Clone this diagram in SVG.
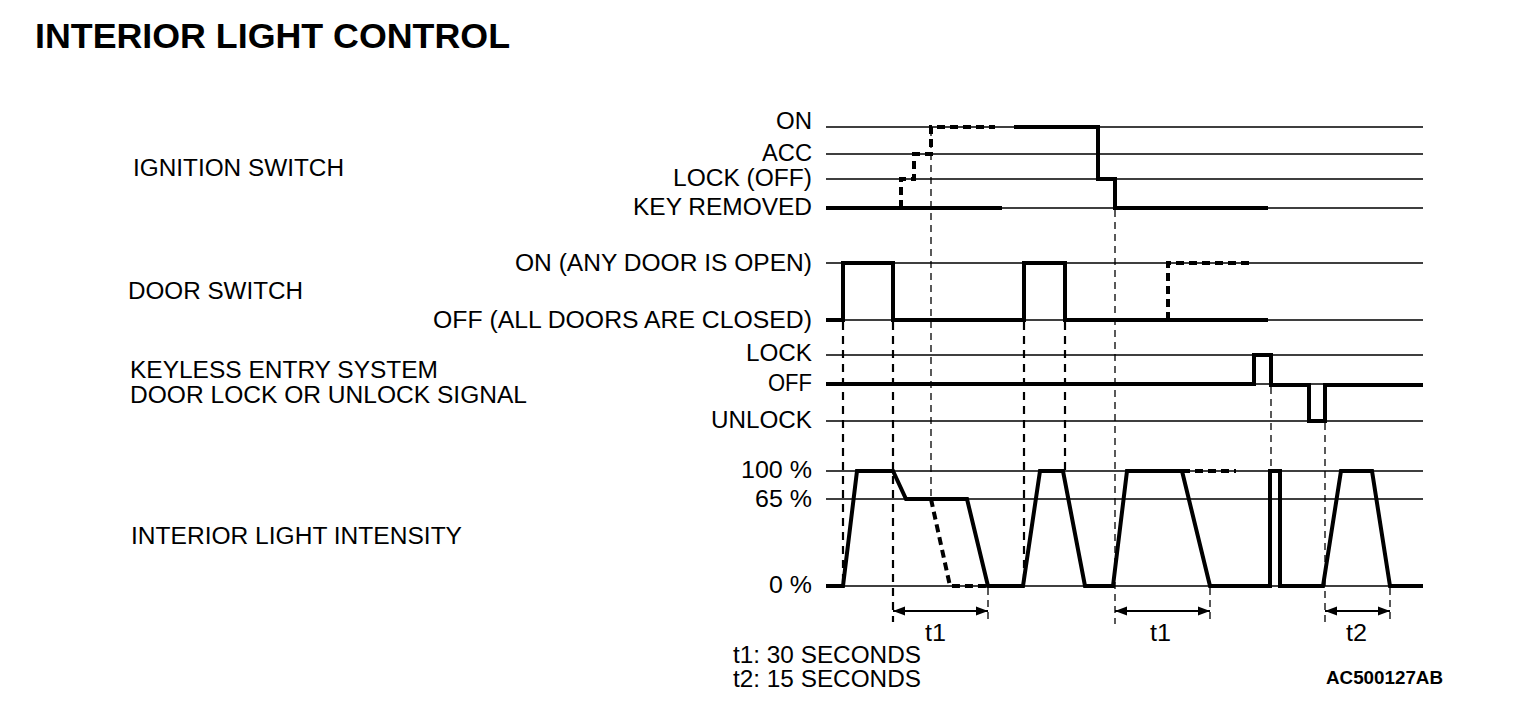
<svg xmlns="http://www.w3.org/2000/svg" width="1520" height="706" viewBox="0 0 1520 706">
<style>
text{font-family:"Liberation Sans",Arial,sans-serif;font-size:23px;fill:#000}
.title{font-weight:bold;font-size:35px}
.code{font-weight:bold;font-size:18px}
.grid{stroke:#000;stroke-width:1.3;fill:none}
.sig{stroke:#000;stroke-width:4;fill:none;stroke-linejoin:miter;stroke-linecap:butt}
.sigd{stroke:#000;stroke-width:4;fill:none;stroke-dasharray:8 5}
.gd{stroke:#000;stroke-width:2.2;fill:none;stroke-dasharray:8 6}
.gt{stroke:#000;stroke-width:1.3;fill:none;stroke-dasharray:7 5}
.dim{stroke:#000;stroke-width:2;fill:none;marker-start:url(#ah);marker-end:url(#ah)}
</style>
<defs>
<marker id="ah" viewBox="0 0 12 10" refX="12" refY="5" markerWidth="12" markerHeight="10" markerUnits="userSpaceOnUse" orient="auto-start-reverse">
<path d="M0,0.5 L12,5 L0,9.5 Z" fill="#000"/>
</marker>
</defs>
<rect width="1520" height="706" fill="#fff"/>
<text class="title" x="35" y="48" textLength="475" lengthAdjust="spacingAndGlyphs">INTERIOR LIGHT CONTROL</text>

<g id="ignition-switch">
<text x="133" y="176" textLength="211" lengthAdjust="spacingAndGlyphs">IGNITION SWITCH</text>
<text x="776" y="129" textLength="36" lengthAdjust="spacingAndGlyphs">ON</text>
<text x="762" y="161" textLength="50" lengthAdjust="spacingAndGlyphs">ACC</text>
<text x="673" y="186" textLength="139" lengthAdjust="spacingAndGlyphs">LOCK (OFF)</text>
<text x="633" y="215" textLength="179" lengthAdjust="spacingAndGlyphs">KEY REMOVED</text>
<path class="grid" d="M826,127H1423M826,154H1423M826,179H1423M826,208H1423"/>
<path class="sig" d="M826,208H1002"/>
<path class="sigd" d="M901,208V179H914V154H931V127H995"/>
<path class="sig" d="M1014,127H1098V179H1115V208H1268"/>
</g>

<g id="door-switch">
<text x="128" y="299" textLength="175" lengthAdjust="spacingAndGlyphs">DOOR SWITCH</text>
<text x="515" y="271" textLength="297" lengthAdjust="spacingAndGlyphs">ON (ANY DOOR IS OPEN)</text>
<text x="433" y="328" textLength="379" lengthAdjust="spacingAndGlyphs">OFF (ALL DOORS ARE CLOSED)</text>
<path class="grid" d="M826,263H1423M826,320H1423"/>
<path class="sig" d="M826,320H843V263H893V320H1024V263H1065V320H1268"/>
<path class="sigd" d="M1168,320V263H1254"/>
</g>

<g id="keyless-entry">
<text x="130" y="378" textLength="308" lengthAdjust="spacingAndGlyphs">KEYLESS ENTRY SYSTEM</text>
<text x="130" y="403" textLength="397" lengthAdjust="spacingAndGlyphs">DOOR LOCK OR UNLOCK SIGNAL</text>
<text x="746" y="361" textLength="66" lengthAdjust="spacingAndGlyphs">LOCK</text>
<text x="768" y="391" textLength="44" lengthAdjust="spacingAndGlyphs">OFF</text>
<text x="711" y="428" textLength="101" lengthAdjust="spacingAndGlyphs">UNLOCK</text>
<path class="grid" d="M826,355H1423M826,384H1423M826,421H1423"/>
<path class="sig" d="M826,384H1254V355H1271V385H1309V421H1325V385H1423"/>
</g>

<g id="interior-light">
<text x="131" y="544" textLength="331" lengthAdjust="spacingAndGlyphs">INTERIOR LIGHT INTENSITY</text>
<text x="741" y="478" textLength="71" lengthAdjust="spacingAndGlyphs">100 %</text>
<text x="755" y="507" textLength="57" lengthAdjust="spacingAndGlyphs">65 %</text>
<text x="769" y="593" textLength="43" lengthAdjust="spacingAndGlyphs">0 %</text>
<path class="grid" d="M826,471H1423M826,499H1423M826,586H1423"/>
<path class="sig" d="M826,586H843L857,471H893L906,499H967L988,586H1023L1040,471H1063L1085,586H1113L1127,471H1182L1210,586H1270V471H1280V586H1323L1341,471H1372L1390,586H1423"/>
<path class="sigd" d="M931,499L950,586H988"/>
<path class="sigd" d="M1182,471H1236"/>
</g>

<g id="connectors">
<path class="gd" d="M843,322V586M893,322V622M1024,322V586M1065,322V471"/>
<path class="gt" d="M931,129V499M988,588V624M1115,210V624M1210,588V624M1271,387V471M1325,423V624M1390,588V624"/>
<path class="dim" d="M893,611H988"/>
<path class="dim" d="M1115,611H1210"/>
<path class="dim" d="M1325,611H1390"/>
</g>

<g id="legend">
<text x="925" y="641" textLength="21" lengthAdjust="spacingAndGlyphs">t1</text>
<text x="1150" y="641" textLength="21" lengthAdjust="spacingAndGlyphs">t1</text>
<text x="1346" y="641" textLength="21" lengthAdjust="spacingAndGlyphs">t2</text>
<text x="733" y="663" textLength="188" lengthAdjust="spacingAndGlyphs">t1: 30 SECONDS</text>
<text x="733" y="687" textLength="188" lengthAdjust="spacingAndGlyphs">t2: 15 SECONDS</text>
<text class="code" x="1326" y="684" textLength="117" lengthAdjust="spacingAndGlyphs">AC500127AB</text>
</g>
</svg>
